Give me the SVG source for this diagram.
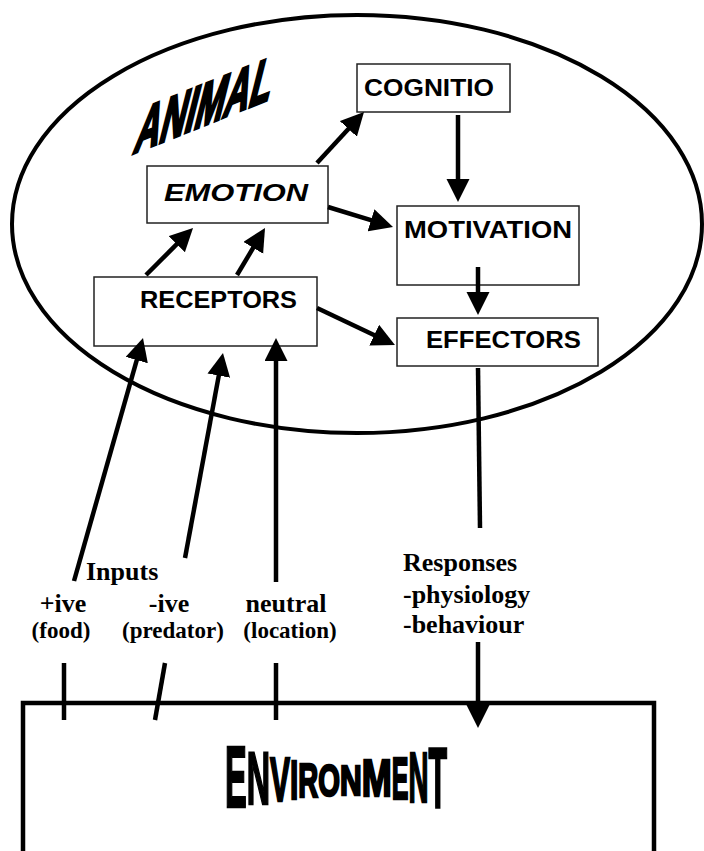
<svg xmlns="http://www.w3.org/2000/svg" width="704" height="851" viewBox="0 0 704 851">
<style>
.box{fill:#fff;stroke:#222;stroke-width:1.5}
.bt{font-family:"Liberation Sans",Arial,sans-serif;font-weight:bold;font-size:23px;fill:#000}
.st{font-family:"Liberation Serif","Times New Roman",serif;font-weight:bold;fill:#000}
.ln{stroke:#000;stroke-width:4.5;fill:none}
.ar{stroke:#000;stroke-width:4.5;fill:none;marker-end:url(#ah)}
.env{font-family:"Liberation Sans",Arial,sans-serif;font-weight:bold;fill:#000;stroke:#000;stroke-width:2.5;stroke-linejoin:miter}
</style>
<defs>
<marker id="ah" markerUnits="userSpaceOnUse" markerWidth="24" markerHeight="24" refX="5" refY="11.5" orient="auto">
<path d="M0,0 L23,11.5 L0,23 z" fill="#000"/>
</marker>
</defs>
<rect width="704" height="851" fill="#fff"/>
<g id="animal">
<ellipse cx="357" cy="224" rx="345" ry="209" fill="none" stroke="#000" stroke-width="4"/>
<text transform="matrix(1 -0.40 -0.25 1 132 154)" x="0" y="0" font-family="'Liberation Sans',Arial,sans-serif" font-weight="bold" font-size="66" stroke="#000" stroke-width="3.5" stroke-linejoin="miter" textLength="136" lengthAdjust="spacingAndGlyphs">ANIMAL</text>
</g>
<g id="environment">
<path d="M23,851 L23,703 L654,703 L654,851" fill="none" stroke="#000" stroke-width="4.5" stroke-linejoin="miter"/>
<text class="env" x="225.0" y="806.8" font-size="87.3" textLength="21.7" lengthAdjust="spacingAndGlyphs">E</text>
<text class="env" x="246.7" y="803.8" font-size="73.3" textLength="23.3" lengthAdjust="spacingAndGlyphs">N</text>
<text class="env" x="270.0" y="800.8" font-size="62.2" textLength="20.0" lengthAdjust="spacingAndGlyphs">V</text>
<text class="env" x="290.0" y="798.8" font-size="55.2" textLength="8.3" lengthAdjust="spacingAndGlyphs">I</text>
<text class="env" x="298.3" y="796.8" font-size="48.2" textLength="20.0" lengthAdjust="spacingAndGlyphs">R</text>
<text class="env" x="318.3" y="795.8" font-size="44.0" textLength="21.7" lengthAdjust="spacingAndGlyphs">O</text>
<text class="env" x="340.0" y="794.8" font-size="42.6" textLength="21.7" lengthAdjust="spacingAndGlyphs">N</text>
<text class="env" x="361.7" y="795.8" font-size="51.0" textLength="30.0" lengthAdjust="spacingAndGlyphs">M</text>
<text class="env" x="391.7" y="798.8" font-size="59.4" textLength="16.7" lengthAdjust="spacingAndGlyphs">E</text>
<text class="env" x="408.4" y="801.8" font-size="70.5" textLength="20.0" lengthAdjust="spacingAndGlyphs">N</text>
<text class="env" x="428.4" y="806.8" font-size="84.5" textLength="18.6" lengthAdjust="spacingAndGlyphs">T</text>
</g>
<g id="cognitio">
<rect class="box" x="357" y="64" width="153" height="48"/>
<text class="bt" x="364" y="96" textLength="130" lengthAdjust="spacingAndGlyphs">COGNITIO</text>
</g>
<g id="emotion">
<rect class="box" x="147" y="166" width="181" height="57"/>
<text class="bt" x="164" y="201" font-style="italic" textLength="144" lengthAdjust="spacingAndGlyphs">EMOTION</text>
</g>
<g id="motivation">
<rect class="box" x="397" y="206" width="182" height="79"/>
<text class="bt" x="404" y="238" textLength="168" lengthAdjust="spacingAndGlyphs">MOTIVATION</text>
</g>
<g id="receptors">
<rect class="box" x="94" y="277" width="223" height="69"/>
<text class="bt" x="140" y="308" textLength="157" lengthAdjust="spacingAndGlyphs">RECEPTORS</text>
</g>
<g id="effectors">
<rect class="box" x="397" y="318" width="201" height="48"/>
<text class="bt" x="426" y="348" textLength="155" lengthAdjust="spacingAndGlyphs">EFFECTORS</text>
</g>
<g id="inputs-labels">
<text class="st" x="86" y="580" font-size="26">Inputs</text>
<text class="st" x="63" y="612" font-size="26" text-anchor="middle">+ive</text>
<text class="st" x="169" y="612" font-size="26" text-anchor="middle">-ive</text>
<text class="st" x="286" y="612" font-size="26" text-anchor="middle">neutral</text>
<text class="st" x="61" y="638" font-size="23" text-anchor="middle">(food)</text>
<text class="st" x="173" y="638" font-size="23" text-anchor="middle">(predator)</text>
<text class="st" x="290" y="638" font-size="23" text-anchor="middle">(location)</text>
</g>
<g id="responses-labels">
<text class="st" x="403" y="571" font-size="26">Responses</text>
<text class="st" x="403" y="603" font-size="26">-physiology</text>
<text class="st" x="403" y="633" font-size="26">-behaviour</text>
</g>
<g id="connectors">
<line class="ar" x1="317" y1="163" x2="351.8" y2="125.2"/>
<line class="ar" x1="458" y1="115" x2="458" y2="184"/>
<line class="ar" x1="328" y1="207" x2="375.8" y2="221.7"/>
<line class="ar" x1="146" y1="275" x2="180.3" y2="240.7"/>
<line class="ar" x1="237" y1="275" x2="255.8" y2="243.5"/>
<line class="ar" x1="478" y1="267" x2="478" y2="297"/>
<line class="ar" x1="317" y1="308" x2="378.7" y2="337.3"/>
<line class="ar" x1="74" y1="581" x2="138.1" y2="355.3"/>
<line class="ar" x1="185" y1="558" x2="219.7" y2="370.7"/>
<line class="ar" x1="276" y1="582" x2="276" y2="356"/>
<line class="ln" x1="478" y1="368" x2="480" y2="528"/>
<line class="ar" x1="478" y1="642" x2="478" y2="710"/>
<line class="ln" x1="64" y1="663" x2="64" y2="720"/>
<line class="ln" x1="165" y1="663" x2="155" y2="720"/>
<line class="ln" x1="276" y1="663" x2="276" y2="720"/>
</g>
</svg>
